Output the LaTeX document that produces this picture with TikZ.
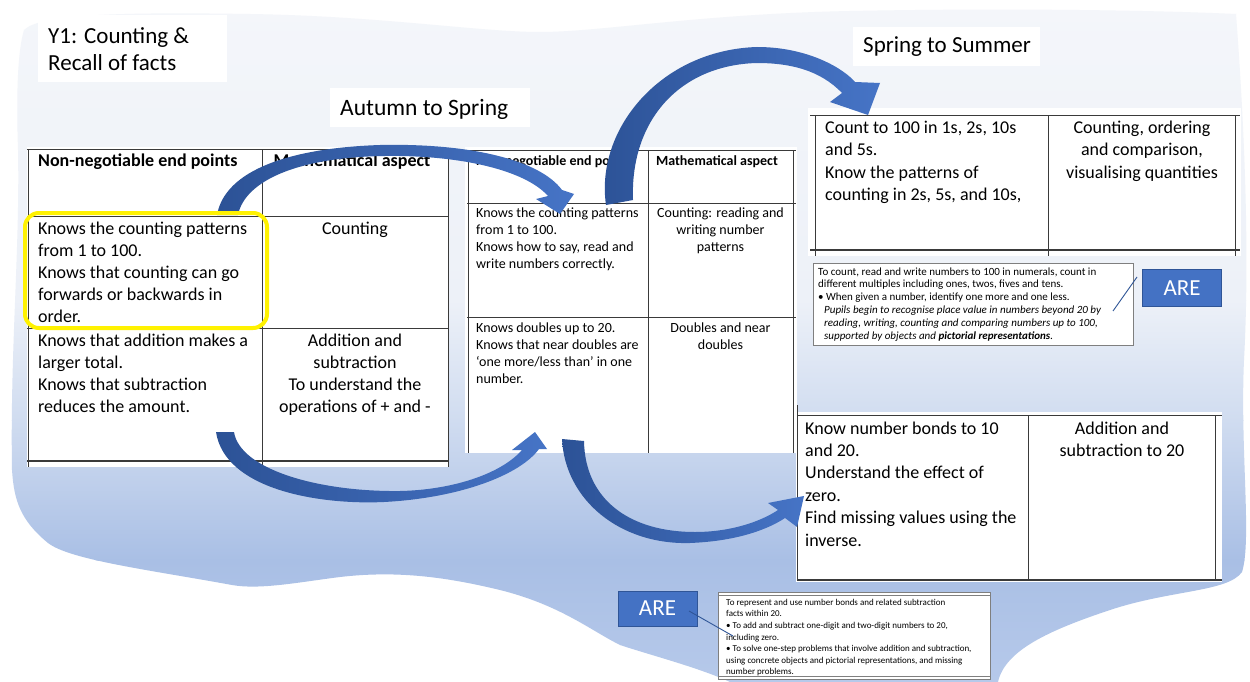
\documentclass[tikz,border=0pt]{standalone}
\usepackage{fontspec}
\setmainfont{Carlito}
\newcommand{\myfs}[2]{\fontsize{#1}{#2}\selectfont}
\definecolor{bgA}{HTML}{F4F6FA}
\definecolor{bgB}{HTML}{EDF1F8}
\definecolor{bgC}{HTML}{D0DCF0}
\definecolor{bgD}{HTML}{A9BFE5}
\definecolor{bgE}{HTML}{B6C9EA}
\definecolor{tblc}{HTML}{3A3A3A}
\definecolor{arrd}{HTML}{2C5296}
\definecolor{arrl}{HTML}{4674C6}
\definecolor{areblue}{HTML}{4472C4}
\definecolor{areedge}{HTML}{2F5597}
\definecolor{notec}{HTML}{7F7F7F}
\tikzset{
  tline/.style={draw=tblc, line width=1pt},
  txt/.style={inner sep=0pt, anchor=north west, align=left, text=black},
  ctxt/.style={inner sep=0pt, anchor=north, align=center, text=black},
  btxt/.style={inner sep=0pt, anchor=base west, text=black},
  bctxt/.style={inner sep=0pt, anchor=base, text=black},
  bluearr/.style={left color=arrd, right color=arrl, draw=none},
  arebox/.style={fill=areblue, draw=areedge, line width=0.8pt, text=white, inner sep=0pt, font=\myfs{23}{27}},
  arecon/.style={draw=areedge, line width=0.9pt},
  notebox/.style={draw=notec, line width=0.8pt, fill=white},
}
\begin{document}
\begin{tikzpicture}[x=1pt,y=-1pt]
\useasboundingbox (0,0) rectangle (1250,682);
\fill[white] (0,0) rectangle (1250,682);
% background blob
\begin{scope}
\clip (24,30) .. controls (40,14) and (120,12) .. (250,14)
 .. controls (380,16) and (480,32) .. (540,32)
 .. controls (600,32) and (700,14) .. (850,11)
 .. controls (1000,8) and (1150,10) .. (1236,14)
 .. controls (1244,120) and (1250,250) .. (1244,360)
 .. controls (1240,450) and (1252,540) .. (1242,572)
 .. controls (1228,592) and (1170,590) .. (1110,610)
 .. controls (1050,630) and (1005,650) .. (998,682)
 -- (730,682)
 .. controls (700,668) and (650,655) .. (620,645)
 .. controls (590,630) and (560,605) .. (500,590)
 .. controls (450,578) and (400,570) .. (340,577)
 .. controls (300,582) and (260,590) .. (232,585)
 .. controls (150,570) and (70,560) .. (48,543)
 .. controls (20,520) and (14,500) .. (12,470)
 .. controls (10,350) and (20,250) .. (18,150)
 .. controls (16,90) and (18,50) .. (24,30) -- cycle;
\shade[top color=bgA, bottom color=bgB] (0,0) rectangle (1250,300.5);
\shade[top color=bgB, bottom color=bgC] (0,300) rectangle (1250,420.5);
\shade[top color=bgC, bottom color=bgD] (0,420) rectangle (1250,560.5);
\shade[top color=bgD, bottom color=bgE] (0,560) rectangle (1250,682);
\end{scope}
% white label panels
\fill[white] (38,15) rectangle (227,82);
\fill[white] (330,88) rectangle (530,127);
\fill[white] (853,27) rectangle (1040,66);
\node[txt, font=\myfs{23}{27}] (title) at (48,24.1) {\strut Y1: Counting \&\\Recall of facts};
\node[btxt, font=\myfs{23.5}{27}] (aut) at (340,116) {Autumn to Spring};
\node[btxt, font=\myfs{23}{27}] (spr) at (863,53) {Spring to Summer};
% table 1
\fill[white] (27,147) rectangle (449,467);
\draw[tline] (27,150) -- (449,150);
\draw[tline] (27,216) -- (449,216);
\draw[tline] (27,328) -- (449,328);
\draw[tline, line width=1.6pt] (27,461) -- (449,461);
\draw[tline] (28,150) -- (28,467);
\draw[tline] (262,150) -- (262,467);
\draw[tline] (448,150) -- (448,467);
\node[btxt, font=\bfseries\myfs{18}{21}] (h1a) at (38,167) {Non-negotiable end points};
\node[bctxt, font=\bfseries\myfs{18}{21}] (h1b) at (352,167) {Mathematical aspect};
\node[txt, font=\myfs{18}{22}] (t1a) at (38,218.6) {\strut Knows the counting patterns\\from 1 to 100.\\Knows that counting can go\\forwards or backwards in\\order.};
\node[ctxt, font=\myfs{18}{22}] (t1b) at (355,218.6) {\strut Counting};
\node[txt, font=\myfs{18}{22}] (t1c) at (38,330.6) {\strut Knows that addition makes a\\larger total.\\Knows that subtraction\\reduces the amount.};
\node[ctxt, font=\myfs{18}{22}] (t1d) at (355,330.6) {\strut Addition and\\subtraction\\To understand the\\operations of + and -};
% table 2
\fill[white] (465,147) rectangle (797,453);
\draw[tline] (467,151) -- (796,151);
\draw[tline] (467,203) -- (796,203);
\draw[tline] (467,317) -- (796,317);
\draw[tline] (468,151) -- (468,453);
\draw[tline] (648,151) -- (648,453);
\draw[tline] (793,151) -- (793,453);
\node[btxt, font=\bfseries\myfs{14}{16}] (h2a) at (476,165) {Non-negotiable end points};
\node[bctxt, font=\bfseries\myfs{14}{16}] (h2b) at (717,165) {Mathematical aspect};
\node[txt, font=\myfs{14}{17}] (t2a) at (476,205.1) {\strut Knows the counting patterns\\from 1 to 100.\\Knows how to say, read and\\write numbers correctly.};
\node[ctxt, font=\myfs{14}{17}] (t2b) at (720.5,205.1) {\strut Counting: reading and\\writing number\\patterns};
\node[txt, font=\myfs{14}{17}] (t2c) at (476,320.1) {\strut Knows doubles up to 20.\\Knows that near doubles are\\‘one more/less than’ in one\\number.};
\node[ctxt, font=\myfs{14}{17}] (t2d) at (720.5,320.1) {\strut Doubles and near\\doubles};
% table 3
\fill[white] (808,108) rectangle (1241,256);
\draw[tline] (810,116) -- (1240,116);
\draw[tline, line width=1.4pt] (810,250) -- (1240,250);
\draw[tline] (815,116) -- (815,256);
\draw[tline] (1048,116) -- (1048,256);
\draw[tline] (1235,116) -- (1235,256);
\node[txt, font=\myfs{18}{22.5}] (t3a) at (825,117.25) {\strut Count to 100 in 1s, 2s, 10s\\and 5s.\\Know the patterns of\\counting in 2s, 5s, and 10s,};
\node[ctxt, font=\myfs{18}{22.5}] (t3b) at (1142,117.25) {\strut Counting, ordering\\and comparison,\\visualising quantities};
% table 4
\fill[white] (796,412) rectangle (1222,582);
\draw[tline] (797,415) -- (1222,415);
\draw[tline, line width=1.4pt] (797,580) -- (1222,580);
\draw[tline] (797,405) -- (797,580);
\draw[tline] (1028,415) -- (1028,580);
\draw[tline] (1215,415) -- (1215,580);
\node[txt, font=\myfs{18}{22.4}] (t4a) at (805,418.3) {\strut Know number bonds to 10\\and 20.\\Understand the effect of\\zero.\\Find missing values using the\\inverse.};
\node[ctxt, font=\myfs{18}{22.4}] (t4b) at (1122,418.3) {\strut Addition and\\subtraction to 20};
% note box 1
\draw[notebox] (813,263) rectangle (1133,345);
\node[txt, font=\myfs{11}{12.8}] (n1) at (818,266) {\strut To count, read and write numbers to 100 in numerals, count in\\different multiples including ones, twos, fives and tens.\\\textbullet{} When given a number, identify one more and one less.\\\hspace*{6pt}\textit{Pupils begin to recognise place value in numbers beyond 20 by}\\\hspace*{6pt}\textit{reading, writing, counting and comparing numbers up to 100,}\\\hspace*{6pt}\textit{supported by objects and \textbf{pictorial representations}.}};
% note box 2
\draw[notebox] (718,592) rectangle (990,679);
\draw[notec, line width=0.6pt] (718,595.5) -- (990,595.5);
\draw[notec, line width=0.6pt] (718,676) -- (990,676);
\node[txt, font=\myfs{9}{11.6}] (n2) at (726,596.9) {\strut To represent and use number bonds and related subtraction\\facts within 20.\\\textbullet{} To add and subtract one-digit and two-digit numbers to 20,\\including zero.\\\textbullet{} To solve one-step problems that involve addition and subtraction,\\using concrete objects and pictorial representations, and missing\\number problems.};
% ARE boxes
\node[arebox, minimum width=79pt, minimum height=37pt] (are1) at (1182,288) {ARE};
\node[arebox, minimum width=79pt, minimum height=35pt] (are2) at (657.5,608.5) {ARE};
\coordinate (c1a) at (1137,277);
\coordinate (c1b) at (1113,311);
\draw[arecon] (c1a) -- (c1b);
\coordinate (c2a) at (689,611);
\coordinate (c2b) at (733,636);
\draw[arecon] (c2a) -- (c2b);
% curved block arrows
\path[bluearr] (217,215) .. controls (225,170) and (290,148) .. (380,145)
  .. controls (470,143) and (540,160) .. (562,190) -- (574,194) -- (560,214) -- (536,199) -- (548,196)
  .. controls (525,170) and (460,155) .. (385,156)
  .. controls (300,157) and (245,180) .. (238,215) -- cycle;
\path[bluearr] (606,205) .. controls (595,130) and (660,50) .. (757,47)
  .. controls (810,47) and (845,70) .. (855,82) -- (880,83) -- (868,115) -- (830,102) -- (842,93)
  .. controls (820,70) and (790,63) .. (757,63)
  .. controls (680,65) and (630,120) .. (633,200) -- cycle;
\path[bluearr] (216,432) .. controls (225,490) and (320,505) .. (384,502)
  .. controls (460,498) and (520,475) .. (539,449) -- (547,449) -- (535,432) -- (512,450) -- (522,450)
  .. controls (500,475) and (450,490) .. (400,491)
  .. controls (320,492) and (240,470) .. (234,432) -- cycle;
\path[bluearr] (562,439) .. controls (565,500) and (620,545) .. (690,543)
  .. controls (740,541) and (770,528) .. (785,518) -- (797,527) -- (804,496) -- (768,503) -- (778,510)
  .. controls (760,522) and (730,532) .. (695,532)
  .. controls (630,532) and (585,500) .. (584,441) -- cycle;
% yellow highlight
\draw[yellow, line width=4pt, rounded corners=14pt] (25,213) rectangle (267,328);
\end{tikzpicture}
\end{document}
